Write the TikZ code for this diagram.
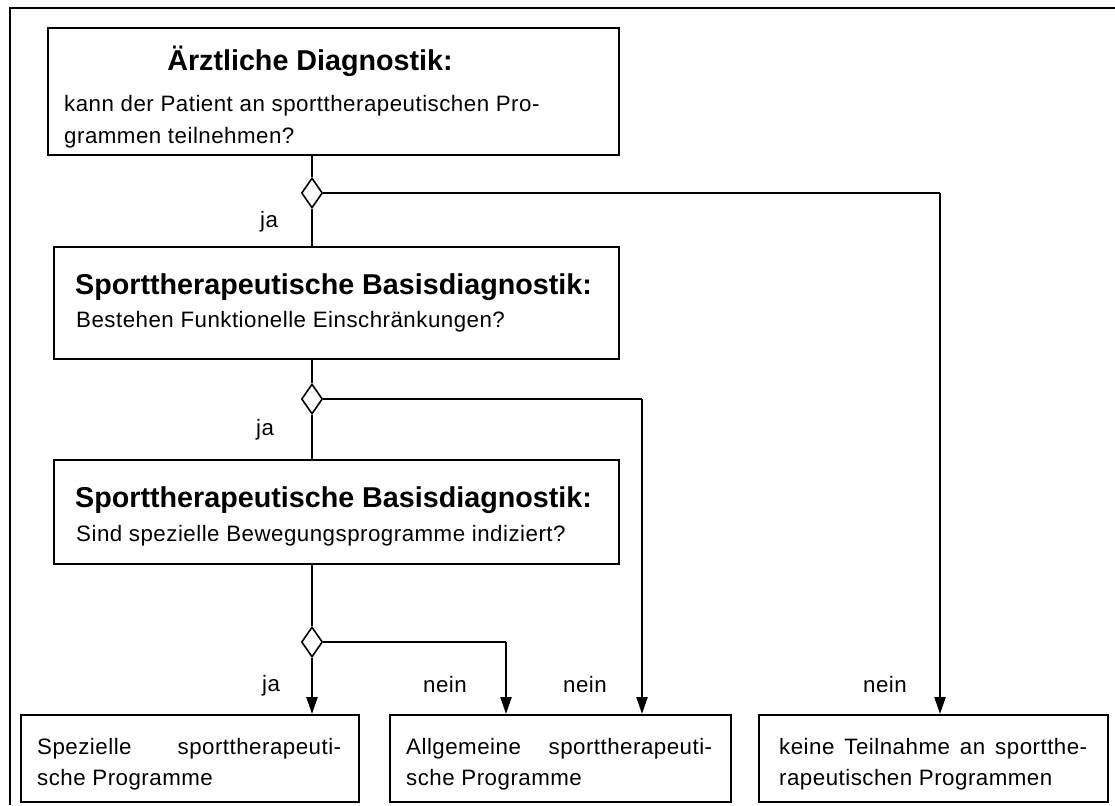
\documentclass[tikz,border=0pt]{standalone}
\usepackage{fontspec}
\setmainfont{Liberation Sans}
\usetikzlibrary{arrows.meta,shapes.geometric}

\newcommand\bodyfont{\fontsize{22.3}{32}\selectfont\addfontfeatures{LetterSpace=2.2}}
\newcommand\headfont{\fontsize{28.7}{34}\selectfont\bfseries}

\begin{document}
\begin{tikzpicture}[x=1pt,y=-1pt,
  box/.style={draw, line width=1.8pt, inner sep=0pt, anchor=north west},
  txt/.style={inner sep=0pt, anchor=base west, font=\bodyfont},
  ttl/.style={inner sep=0pt, anchor=base west, font=\headfont},
  gate/.style={draw, diamond, line width=1.6pt, inner sep=0pt,
               minimum width=21pt, minimum height=30pt},
  link/.style={line width=1.5pt},
  flow/.style={line width=2.4pt, -{Triangle[width=11pt,length=17pt]}},
]
\useasboundingbox (0,0) rectangle (1115,805);

% frame
\draw[line width=2pt] (10,805) -- (10,8) -- (1115,8);

% decision boxes
\node[box, minimum width=571pt, minimum height=127pt] (b1) at (47,27) {};
\node[box, minimum width=565pt, minimum height=112pt] (b2) at (53,246) {};
\node[box, minimum width=565pt, minimum height=104pt] (b3) at (53,459) {};

% branch points
\node[gate] (g1) at (312,193) {};
\node[gate] (g2) at (312,399) {};
\node[gate] (g3) at (312,642) {};

% outcome boxes
\node[box, minimum width=338pt, minimum height=87pt] (r1) at (20,714) {};
\node[box, minimum width=341pt, minimum height=87pt] (r2) at (389,714) {};
\node[box, minimum width=349pt, minimum height=87pt] (r3) at (758,714) {};

% corners of the "nein" branches
\coordinate (c1) at (940,193);
\coordinate (c2) at (642,399);
\coordinate (c3) at (506,642);

% box texts
\node[ttl, anchor=base] (h1) at (310,71) {Ärztliche Diagnostik:};
\node[txt] (t1a) at (64,112) {kann der Patient an sporttherapeutischen Pro-};
\node[txt] (t1b) at (64,144) {grammen teilnehmen?};

\node[ttl] (h2) at (75,294) {Sporttherapeutische Basisdiagnostik:};
\node[txt] (t2) at (76,327) {Bestehen Funktionelle Einschränkungen?};

\node[ttl] (h3) at (75,507) {Sporttherapeutische Basisdiagnostik:};
\node[txt] (t3) at (76,541) {Sind spezielle Bewegungsprogramme indiziert?};

\node[txt] (s1a) at (37,754) {\makebox[304pt][s]{Spezielle sporttherapeuti-}};
\node[txt] (s1b) at (37,785) {sche Programme};
\node[txt] (s2a) at (406,754) {\makebox[306pt][s]{Allgemeine sporttherapeuti-}};
\node[txt] (s2b) at (406,785) {sche Programme};
\node[txt] (s3a) at (779,754) {\makebox[308pt][s]{keine Teilnahme an sportthe-}};
\node[txt] (s3b) at (779,785) {rapeutischen Programmen};

% branch labels
\node[txt] (ja1) at (260,227) {ja};
\node[txt] (ja2) at (256,435) {ja};
\node[txt] (ja3) at (262,691) {ja};
\node[txt] (ne1) at (423,692) {nein};
\node[txt] (ne2) at (563,692) {nein};
\node[txt] (ne3) at (863,692) {nein};

% connectors
\draw[link] (g1.north |- b1.south) -- (g1.north);
\draw[link] (g1.south) -- (g1.south |- b2.north);
\draw[link] (g1.east) -- (c1);
\draw[flow] (c1) -- (c1 |- r3.north);

\draw[link] (g2.north |- b2.south) -- (g2.north);
\draw[link] (g2.south) -- (g2.south |- b3.north);
\draw[link] (g2.east) -- (c2);
\draw[flow] (c2) -- (c2 |- r2.north);

\draw[link] (g3.north |- b3.south) -- (g3.north);
\draw[link] (g3.east) -- (c3);
\draw[flow] (c3) -- (c3 |- r2.north);
\draw[flow] (g3.south) -- (g3.south |- r1.north);
\end{tikzpicture}
\end{document}
